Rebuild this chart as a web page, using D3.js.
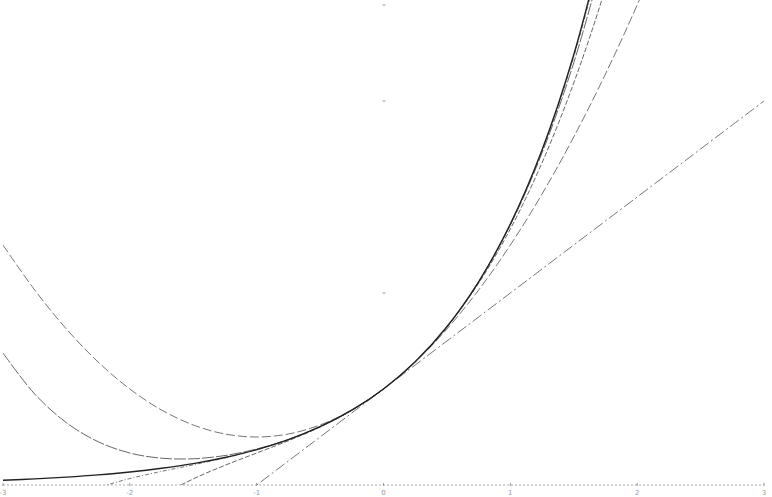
<!DOCTYPE html>
<html>
<head>
<meta charset="utf-8">
<script src="https://cdn.jsdelivr.net/npm/d3@7"></script>
<style>
  body { margin: 0; background: #fff; }
  svg { display: block; }
</style>
</head>
<body>
<svg id="graphique" width="772" height="497"></svg>
<script>
// x sample points (every 0.25)
var xs = [-3, -2.75, -2.5, -2.25, -2, -1.75, -1.5, -1.25, -1, -0.75, -0.5, -0.25,
          0, 0.25, 0.5, 0.75, 1, 1.25, 1.5, 1.75, 2, 2.25, 2.5, 2.75, 3];

// exp(x), solid curve
var expVals = [0.050, 0.064, 0.082, 0.105, 0.135, 0.174, 0.223, 0.287, 0.368, 0.472, 0.607, 0.779,
               1.000, 1.284, 1.649, 2.117, 2.718, 3.490, 4.482, 5.755];
// degree 1 (straight line)
var deg1 = [-2, -1.75, -1.5, -1.25, -1, -0.75, -0.5, -0.25, 0, 0.25, 0.5, 0.75,
            1, 1.25, 1.5, 1.75, 2, 2.25, 2.5, 2.75, 3, 3.25, 3.5, 3.75, 4];
// degree 2
var deg2 = [2.5, 2.031, 1.625, 1.281, 1.0, 0.781, 0.625, 0.531, 0.5, 0.531, 0.625, 0.781,
            1, 1.281, 1.625, 2.031, 2.5, 3.031, 3.625, 4.281, 5.0, 5.781];
// degree 3
var deg3 = [-2.0, -1.435, -0.979, -0.617, -0.333, -0.112, 0.063, 0.205, 0.333, 0.461, 0.604, 0.779,
            1, 1.284, 1.646, 2.102, 2.667, 3.357, 4.188, 5.174, 6.333];
// degree 4
var deg4 = [1.375, 0.948, 0.649, 0.451, 0.333, 0.279, 0.273, 0.307, 0.375, 0.474, 0.607, 0.779,
            1, 1.284, 1.648, 2.115, 2.708, 3.459, 4.398, 5.565];
// degree 5
var deg5 = [-0.65, -0.363, -0.165, -0.030, 0.067, 0.142, 0.210, 0.282, 0.367, 0.472, 0.607, 0.779,
            1, 1.284, 1.649, 2.117, 2.717, 3.484, 4.461, 5.702];

var xTicks = [-3, -2, -1, 0, 1, 2, 3];
var yTicks = [2, 4, 5];

var series = [
  { vals: deg1, stroke: "#666", width: 0.9, dash: "11,3,2,3" },
  { vals: deg2, stroke: "#666", width: 0.9, dash: "9,3" },
  { vals: deg3, stroke: "#555", width: 0.9, dash: "5,2" },
  { vals: deg4, stroke: "#555", width: 0.9, dash: "12,2" },
  { vals: deg5, stroke: "#666", width: 0.9, dash: "4,2,1,2" },
  { vals: expVals, stroke: "#222", width: 1.4, dash: null }
];

var graphique = d3.select("#graphique");

var xScale = d3.scaleLinear().domain([-3, 3]).range([3, 764]);
var yScale = d3.scaleLinear().domain([0, 5]).range([485, 5]);

graphique.append("defs").append("clipPath").attr("id", "zone")
  .append("rect")
  .attr("x", 0).attr("y", 0)
  .attr("width", 772).attr("height", yScale(0));

//// axe x (ligne fine pointillee)
graphique.append("line")
  .attr("x1", xScale(-3)).attr("x2", xScale(3))
  .attr("y1", yScale(0)).attr("y2", yScale(0))
  .attr("stroke", "#aaa")
  .attr("stroke-width", 1)
  .attr("stroke-dasharray", "2,2");

graphique.selectAll(".xtick").data(xTicks).enter().append("line")
  .attr("x1", function(d){ return xScale(d); })
  .attr("x2", function(d){ return xScale(d); })
  .attr("y1", yScale(0) - 2).attr("y2", yScale(0) + 1)
  .attr("stroke", "#999");

graphique.selectAll(".xlab").data(xTicks).enter().append("text")
  .attr("x", function(d){ return xScale(d); })
  .attr("y", yScale(0) + 10)
  .attr("text-anchor", "middle")
  .attr("font-family", "DejaVu Sans, sans-serif")
  .attr("font-size", 7)
  .attr("fill", "#999")
  .text(function(d){ return d; });

//// petites graduations axe y
graphique.selectAll(".ytick").data(yTicks).enter().append("line")
  .attr("x1", xScale(0) - 1).attr("x2", xScale(0) + 2)
  .attr("y1", function(d){ return yScale(d); })
  .attr("y2", function(d){ return yScale(d); })
  .attr("stroke", "#999");

//// courbes
var line = d3.line()
  .defined(function(d){ return d[1] != null; })
  .x(function(d){ return xScale(d[0]); })
  .y(function(d){ return yScale(d[1]); })
  .curve(d3.curveCatmullRom);

var courbes = graphique.append("g").attr("clip-path", "url(#zone)");

series.forEach(function(s){
  var pts = s.vals.map(function(v, i){ return [xs[i], v]; });
  courbes.append("path")
    .attr("d", line(pts))
    .attr("fill", "none")
    .attr("stroke", s.stroke)
    .attr("stroke-width", s.width)
    .attr("stroke-dasharray", s.dash);
});
</script>
</body>
</html>
